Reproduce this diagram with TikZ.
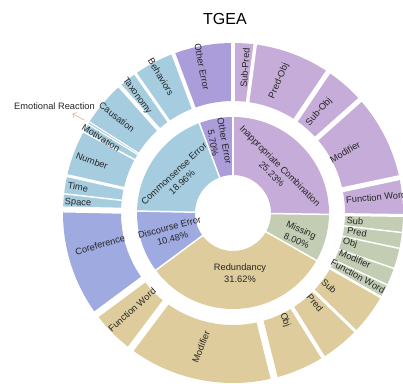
\documentclass[tikz,border=0pt]{standalone}
\usepackage{fontspec}
\setmainfont{Liberation Sans}
\usetikzlibrary{arrows.meta}
\definecolor{lilac}{RGB}{198,172,216}
\definecolor{violet}{RGB}{170,157,218}
\definecolor{sky}{RGB}{166,205,223}
\definecolor{peri}{RGB}{158,170,224}
\definecolor{wheat}{RGB}{222,204,156}
\definecolor{sage}{RGB}{194,205,179}
\definecolor{pointer}{RGB}{214,178,106}

\tikzset{
    lbl/.style={font=\fontsize{9.3}{11.7}\selectfont, text=black!85, align=center, inner sep=0pt},
    cut/.style={draw=white, line width=#1},
}
% colour, inner radius, outer radius, start angle, end angle
\newcommand{\ringpart}[5]{%
    \fill[#1] (#4:#2) arc[start angle=#4, end angle=#5, radius=#2]
        -- (#5:#3) arc[start angle=#5, end angle=#4, radius=#3] -- cycle;}

\begin{document}
\begin{tikzpicture}[x=1pt, y=1pt]
                \useasboundingbox (-233,-170) rectangle (170,213);
                \fill[white] (-233,-170) rectangle (170,213);

                % inner ring
                \foreach \a/\b/\c in {90/-0.83/lilac, -0.83/-29.63/sage, -29.63/-143.46/wheat,
                    -143.46/-181.19/peri, 178.81/110.55/sky, 110.55/90.03/violet}
                    \ringpart{\c}{38}{96}{\a}{\b};
                \foreach \a in {90, -0.83, -29.63, -143.46, 178.81, 110.55}
                    \draw[cut=1.5pt] (\a:36) -- (\a:98);

                % outer ring
                \foreach \a/\b/\c in {90/82.5/lilac, 82.5/56/lilac, 56/41.7/lilac, 41.7/12/lilac, 12/-0.83/lilac,
                    -0.83/-6.6/sage, -6.6/-12/sage, -12/-19/sage, -19/-25/sage, -25/-29.63/sage,
                    -29.63/-44/wheat, -44/-58/wheat, -58/-76/wheat, -76/-127/wheat, -127/-143.46/wheat,
                    -143.46/-181.19/peri,
                    178.81/173.5/sky, 173.5/167.3/sky, 167.3/151.5/sky, 151.5/148.5/sky, 148.5/147.6/sky,
                    147.6/131.7/sky, 131.7/125/sky, 125/110.55/sky,
                    110.55/90.03/violet}
                    \ringpart{\c}{112}{170}{\a}{\b};
                \foreach \a/\w in {90/4, 82.5/3.5, 56/5, 41.7/5, 12/5, -0.83/3,
                    -6.6/1.5, -12/1.5, -19/1.5, -25/1.5, -29.63/2.5,
                    -44/3, -58/4, -76/7, -127/7, -143.46/7,
                    178.81/6, 173.5/1.5, 167.3/3, 151.5/1.5, 148.5/1.2, 147.6/1.2,
                    131.7/4, 125/3, 110.55/4}
                    \draw[cut=\w pt] (\a:110) -- (\a:175);

                \node[font=\fontsize{16}{18}\selectfont] (title) at (-8,194) {TGEA};

                % inner labels
                \node[lbl, rotate=-45] (incomb) at (43,43) {Inappropriate Combination\\25.23\%};
                \node[lbl, rotate=-24] (missing) at (66,-22) {Missing\\8.00\%};
                \node[lbl] (redund) at (7,-60) {Redundancy\\31.62\%};
                \node[lbl, rotate=15] (discourse) at (-62,-20) {Discourse Error\\10.48\%};
                \node[lbl, rotate=43] (commonsense) at (-55,35) {Commonsense Error\\18.96\%};
                \node[lbl, rotate=-79.5] (otherin) at (-14,71) {Other Error\\5.70\%};

                % outer labels
                \node[lbl, rotate=86] (subpred) at (12,145) {Sub-Pred};
                \node[lbl, rotate=67] (predobj) at (46,132) {Pred-Obj};
                \node[lbl, rotate=49] (subobj) at (86,101) {Sub-Obj};
                \node[lbl, rotate=30] (modcomb) at (112,61) {Modifier};
                \node[lbl, rotate=5, anchor=west] (fwcomb) at (113,13) {Function Word};
                \node[lbl, rotate=-4] (submiss) at (122,-8) {Sub};
                \node[lbl, rotate=-9] (predmiss) at (124,-19) {Pred};
                \node[lbl, rotate=-15] (objmiss) at (117,-30) {Obj};
                \node[lbl, rotate=-22] (modmiss) at (122,-46) {Modifier};
                \node[lbl, rotate=-29] (fwmiss) at (125,-63) {Function Word};
                \node[lbl, rotate=-40] (subred) at (96,-73) {Sub};
                \node[lbl, rotate=-50] (predred) at (82,-90) {Pred};
                \node[lbl, rotate=-70] (objred) at (52,-107) {Obj};
                \node[lbl, rotate=68] (modred) at (-32,-134) {Modifier};
                \node[lbl, rotate=42] (fwred) at (-101,-97) {Function Word};
                \node[lbl, rotate=16] (coref) at (-133,-32) {Coreference};
                \node[lbl, rotate=-4] (space) at (-155,10) {Space};
                \node[lbl, rotate=-10] (time) at (-155,26) {Time};
                \node[lbl, rotate=-20] (number) at (-141,52) {Number};
                \node[lbl, rotate=-31] (motiv) at (-132,75) {Motivation};
                \node[lbl, rotate=-38] (causation) at (-116,96) {Causation};
                \node[lbl, rotate=-54] (taxonomy) at (-96,117) {Taxonomy};
                \node[lbl, rotate=-59] (behaviors) at (-72,136) {Behaviors};
                \node[lbl, rotate=-79] (otherout) at (-31,146) {Other Error};

                \node[lbl] (emolbl) at (-178.5,107) {Emotional Reaction};
                \coordinate (emo) at (148:175);
                \draw[pointer, line width=0.5pt, -{Straight Barb[length=3pt]}] (emo) -- ([xshift=18pt,yshift=-4pt]emolbl.south);
            \end{tikzpicture}
\end{document}
